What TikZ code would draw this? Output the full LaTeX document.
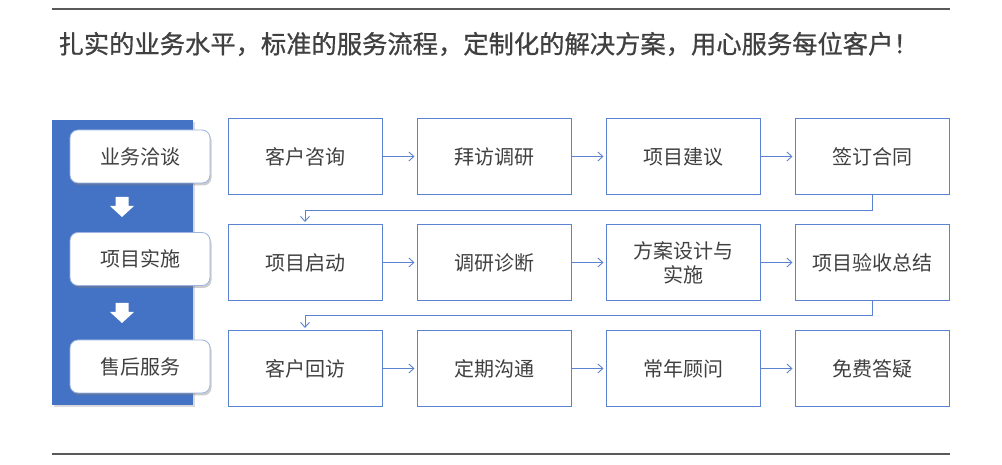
\documentclass[tikz,border=0pt]{standalone}
\usepackage{fontspec}
\setmainfont{Noto Sans CJK SC}
\newfontfamily\titlefont[FakeBold=0.8]{Noto Sans CJK SC}
\usetikzlibrary{positioning, shadows, arrows.meta}
\definecolor{panelblue}{HTML}{4472C4}
\definecolor{lineblue}{HTML}{5B83CF}
\definecolor{paleblue}{HTML}{9DB5E0}
\definecolor{textgray}{HTML}{404040}
\definecolor{rulegray}{HTML}{595959}
\tikzstyle{stage} = [rectangle, rounded corners=8pt, minimum width=140pt, minimum height=53pt, text centered, draw=paleblue, line width=0.8pt, fill=white, text=textgray, font=\fontsize{20pt}{24pt}\selectfont, drop shadow={shadow xshift=1.5pt, shadow yshift=-2.5pt, opacity=0.4}]
\tikzstyle{task} = [rectangle, minimum width=154pt, minimum height=76pt, align=center, draw=lineblue, line width=1pt, fill=white, text=textgray, font=\fontsize{20pt}{24pt}\selectfont]
\tikzstyle{arrow} = [lineblue, line width=0.9pt, shorten >=2pt, -{Straight Barb[length=5pt,width=9pt]}]
\tikzstyle{rule} = [rulegray, line width=1.6pt]

\begin{document}
\begin{tikzpicture}[x=1pt, y=1pt, node distance=34pt]
            \useasboundingbox (0,0) rectangle (1002,465);
            \draw [rule] (52,456) -- (950,456);
            \draw [rule, line width=1.2pt] (52,11) -- (950,11);
            \node (title) [anchor=west, text=textgray, font=\titlefont\fontsize{25.3pt}{30pt}\selectfont] at (55,421) {扎实的业务水平，标准的服务流程，定制化的解决方案，用心服务每位客户！};

            \node (panel) [fill=panelblue, minimum width=141pt, minimum height=285pt, drop shadow={shadow xshift=1.5pt, shadow yshift=-2pt, opacity=0.3}] at (122.5,202.5) {};
            \node (yewu) [stage] at (140,308.5) {业务洽谈};
            \node (shishi) [stage] at (140,206) {项目实施};
            \node (shouhou) [stage] at (140,98.5) {售后服务};
            % white block arrows between the stages
            \foreach \y in {258,152}
                \fill [white] (115.5,\y+10) -- (128.5,\y+10) -- (128.5,\y+1) -- (134,\y+1) -- (122,\y-10) -- (110,\y+1) -- (115.5,\y+1) -- cycle;

            \node (kehuzixun) [task] at (305,308.5) {客户咨询};
            \node (baifang) [task, right=of kehuzixun] {拜访调研};
            \node (jianyi) [task, right=of baifang] {项目建议};
            \node (qianding) [task, right=of jianyi] {签订合同};
            \node (qidong) [task, below=29pt of kehuzixun] {项目启动};
            \node (zhenduan) [task, right=of qidong] {调研诊断};
            \node (sheji) [task, right=of zhenduan] {方案设计与\\实施};
            \node (yanshou) [task, right=of sheji] {项目验收总结};
            \node (huifang) [task, below=29pt of qidong] {客户回访};
            \node (goutong) [task, right=of huifang] {定期沟通};
            \node (guwen) [task, right=of goutong] {常年顾问};
            \node (dayi) [task, right=of guwen] {免费答疑};

            \draw [arrow] (kehuzixun) -- (baifang);
            \draw [arrow] (baifang) -- (jianyi);
            \draw [arrow] (jianyi) -- (qianding);
            \draw [arrow] (qidong) -- (zhenduan);
            \draw [arrow] (zhenduan) -- (sheji);
            \draw [arrow] (sheji) -- (yanshou);
            \draw [arrow] (huifang) -- (goutong);
            \draw [arrow] (goutong) -- (guwen);
            \draw [arrow] (guwen) -- (dayi);
            \draw [arrow] (qianding.south) -- ++(0,-15) -| (qidong.north);
            \draw [arrow] (yanshou.south) -- ++(0,-14) -| (huifang.north);
        \end{tikzpicture}
\end{document}
